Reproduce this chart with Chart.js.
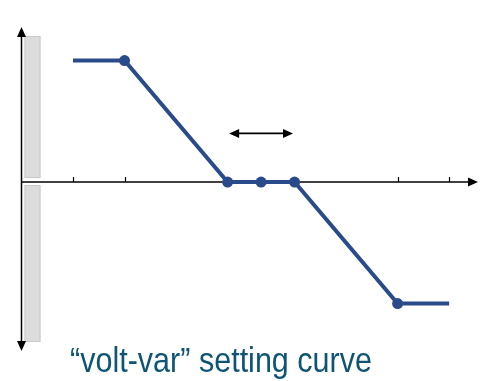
<!DOCTYPE html>
<html lang="en">
<head>
  <meta charset="UTF-8" />
  <title>volt-var setting curve</title>
  <script src="https://cdn.jsdelivr.net/npm/chart.js@4.4.1/dist/chart.umd.min.js"></script>
  <style>
    html, body { margin: 0; padding: 0; background: #fff; }
    .wrap { position: relative; width: 483px; height: 381px; overflow: hidden; }
    #curva { position: absolute; left: 0; top: 0; }
    #legenda {
      position: absolute;
      left: 70px;
      top: 342px;
      font-family: 'Liberation Sans Narrow', 'Liberation Sans', Arial, sans-serif;
      font-size: 35px;
      line-height: 35px;
      color: #0e5474;
      white-space: nowrap;
      transform-origin: left top;
    }
  </style>
</head>
<body>
  <div class="wrap">
    <canvas id="curva" width="483" height="381"></canvas>
    <div id="legenda">“volt-var” setting curve</div>
  </div>

<script>
  // dados (tensao x potencia reativa, unidades arbitrarias)
  const tensao = [1, 2, 4, 4.65, 5.3, 7.3, 8.3];
  const reativo = [1, 1, 0, 0, 0, -1, -1];
  const marcasX = [1, 2, 7.3, 8.3];
  const faixaMorta = [4.03, 5.27];   // seta dupla (dead band)
  const alturaFaixa = 0.4;

  const corCurva = '#2a4b8a';

  // plugin: eixos com setas, marcas, barra cinza e seta dupla
  const eixosPlugin = {
    id: 'eixos',
    beforeDatasetsDraw(chart) {
      const { ctx, chartArea: a, scales: { x, y } } = chart;
      const y0 = y.getPixelForValue(0);
      const x0 = a.left;

      ctx.save();
      // barra cinza ao lado do eixo vertical
      ctx.fillStyle = '#dcdcdc';
      ctx.strokeStyle = '#c9c9c9';
      ctx.lineWidth = 1;
      ctx.fillRect(x0 + 3, a.top + 9, 16, y0 - 4 - (a.top + 9));
      ctx.strokeRect(x0 + 3.5, a.top + 9.5, 15, y0 - 4 - (a.top + 9) - 1);
      ctx.fillRect(x0 + 3, y0 + 3, 16, a.bottom - 9 - (y0 + 3));
      ctx.strokeRect(x0 + 3.5, y0 + 3.5, 15, a.bottom - 9 - (y0 + 3) - 1);

      ctx.strokeStyle = '#000';
      ctx.fillStyle = '#000';
      ctx.lineWidth = 1.5;
      // eixo vertical
      ctx.beginPath();
      ctx.moveTo(x0, a.top + 6);
      ctx.lineTo(x0, a.bottom - 6);
      ctx.stroke();
      seta(ctx, x0, a.top, 0, -1);
      seta(ctx, x0, a.bottom, 0, 1);
      // eixo horizontal
      ctx.beginPath();
      ctx.moveTo(x0, y0);
      ctx.lineTo(a.right - 6, y0);
      ctx.stroke();
      seta(ctx, a.right, y0, 1, 0);
      // marcas
      ctx.lineWidth = 1.2;
      marcasX.forEach(v => {
        const px = Math.round(x.getPixelForValue(v)) + 0.5;
        ctx.beginPath();
        ctx.moveTo(px, y0);
        ctx.lineTo(px, y0 - 5);
        ctx.stroke();
      });
      // seta dupla
      const ya = y.getPixelForValue(alturaFaixa);
      const xa = x.getPixelForValue(faixaMorta[0]);
      const xb = x.getPixelForValue(faixaMorta[1]);
      ctx.lineWidth = 1.8;
      ctx.beginPath();
      ctx.moveTo(xa + 6, ya);
      ctx.lineTo(xb - 6, ya);
      ctx.stroke();
      seta(ctx, xa, ya, -1, 0);
      seta(ctx, xb, ya, 1, 0);
      ctx.restore();
    }
  };

  function seta(ctx, px, py, dx, dy) {
    const len = 10, half = 4.5;
    ctx.beginPath();
    ctx.moveTo(px, py);
    ctx.lineTo(px - dx * len - dy * half, py - dy * len - dx * half);
    ctx.lineTo(px - dx * len + dy * half, py - dy * len + dx * half);
    ctx.closePath();
    ctx.fill();
  }

  new Chart(document.getElementById('curva'), {
    type: 'line',
    data: {
      datasets: [{
        data: tensao.map((v, i) => ({ x: v, y: reativo[i] })),
        borderColor: corCurva,
        borderWidth: 4,
        backgroundColor: corCurva,
        pointBackgroundColor: corCurva,
        pointBorderWidth: 0,
        pointRadius: c => (c.dataIndex === 0 || c.dataIndex === tensao.length - 1) ? 0 : 5.5,
        tension: 0,
        fill: false
      }]
    },
    options: {
      responsive: false,
      animation: false,
      layout: { padding: { left: 21.5, right: 5, top: 27, bottom: 30 } },
      scales: {
        x: { type: 'linear', min: 0, max: 8.86, display: false },
        y: { type: 'linear', min: -1.39, max: 1.276, display: false }
      },
      plugins: {
        legend: { display: false },
        tooltip: { enabled: false }
      }
    },
    plugins: [eixosPlugin]
  });

  // ajusta largura da legenda para ~302px
  const leg = document.getElementById('legenda');
  const w = leg.getBoundingClientRect().width;
  leg.style.transform = 'scaleX(' + (302 / w) + ')';
</script>
</body>
</html>
